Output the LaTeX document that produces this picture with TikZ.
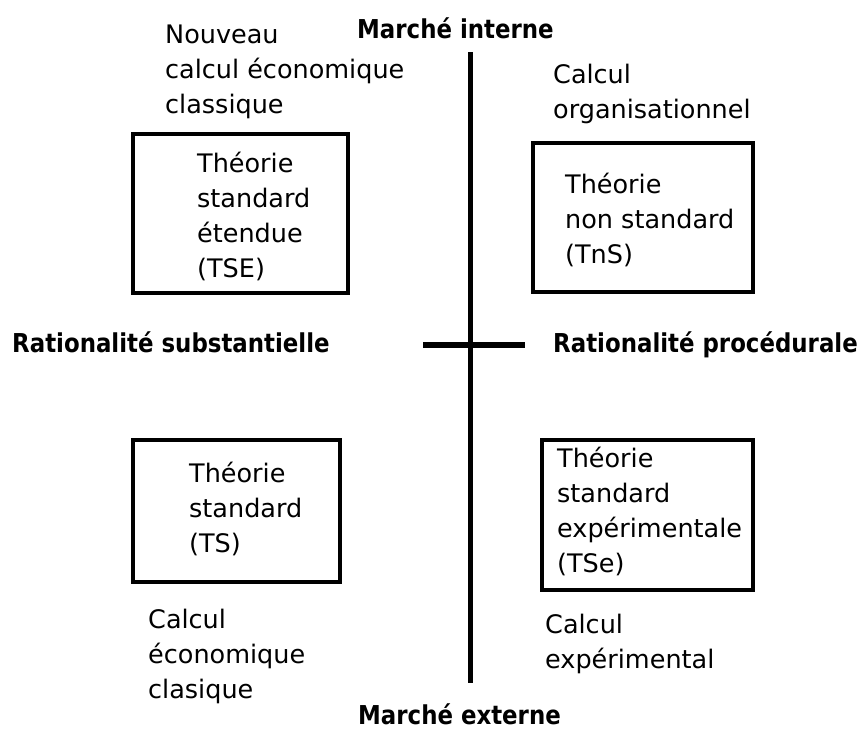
\documentclass[tikz,border=0pt]{standalone}
\usepackage{fontspec}
\setmainfont{DejaVu Sans}
\newfontfamily\labfont[FakeStretch=0.88]{DejaVu Sans}
\newcommand\stk[1]{\vtop{\baselineskip=35pt\lineskiplimit=-100pt\halign{##\hfil\cr#1\crcr}}}
\begin{document}
\begin{tikzpicture}[x=1pt,y=-1pt,
  txt/.style={inner sep=0pt, anchor=base west, font=\fontsize{25.5}{35}\selectfont},
  lab/.style={inner sep=0pt, anchor=base west, font=\labfont\bfseries\fontsize{26}{30}\selectfont},
  box/.style={draw, line width=3.5pt, inner sep=0pt},
  vaxis/.style={line width=5pt},
  haxis/.style={line width=5.5pt}]
\useasboundingbox (0,0) rectangle (857,731);
% boxes
\node[box, minimum width=215pt, minimum height=159pt] (tse) at (240.5,213.5) {};
\node[box, minimum width=220pt, minimum height=149pt] (tns) at (643,217.5) {};
\node[box, minimum width=207pt, minimum height=142pt] (ts) at (236.5,511) {};
\node[box, minimum width=211pt, minimum height=150pt] (tsexp) at (647.5,515) {};
% box texts
\node[txt] (tTSE) at (197,172) {\stk{Théorie\cr standard\cr étendue\cr (TSE)}};
\node[txt] (tTnS) at (565,193) {\stk{Théorie\cr non standard\cr (TnS)}};
\node[txt] (tTS) at (189,482) {\stk{Théorie\cr standard\cr (TS)}};
\node[txt] (tTSe) at (557,467) {\stk{Théorie\cr standard\cr expérimentale\cr (TSe)}};
% outer texts
\node[txt] (ncec) at (165,43) {\stk{Nouveau\cr calcul économique\cr classique}};
\node[txt] (corg) at (553,83) {\stk{Calcul\cr organisationnel}};
\node[txt] (cec) at (148,628) {\stk{Calcul\cr économique\cr clasique}};
\node[txt] (cexp) at (545,633) {\stk{Calcul\cr expérimental}};
% axis labels
\node[lab] (mint) at (357,38) {Marché interne};
\node[lab] (mext) at (358,724) {Marché externe};
\node[lab] (rsub) at (12,352) {Rationalité substantielle};
\node[lab] (rproc) at (553,352) {Rationalité procédurale};
% axes
\coordinate (axtop) at (470,52);
\coordinate (axbot) at (470,683);
\coordinate (hl) at (423,345);
\coordinate (hr) at (525,345);
\draw[vaxis] (axtop) -- (axbot);
\draw[haxis] (hl) -- (hr);
\end{tikzpicture}
\end{document}
